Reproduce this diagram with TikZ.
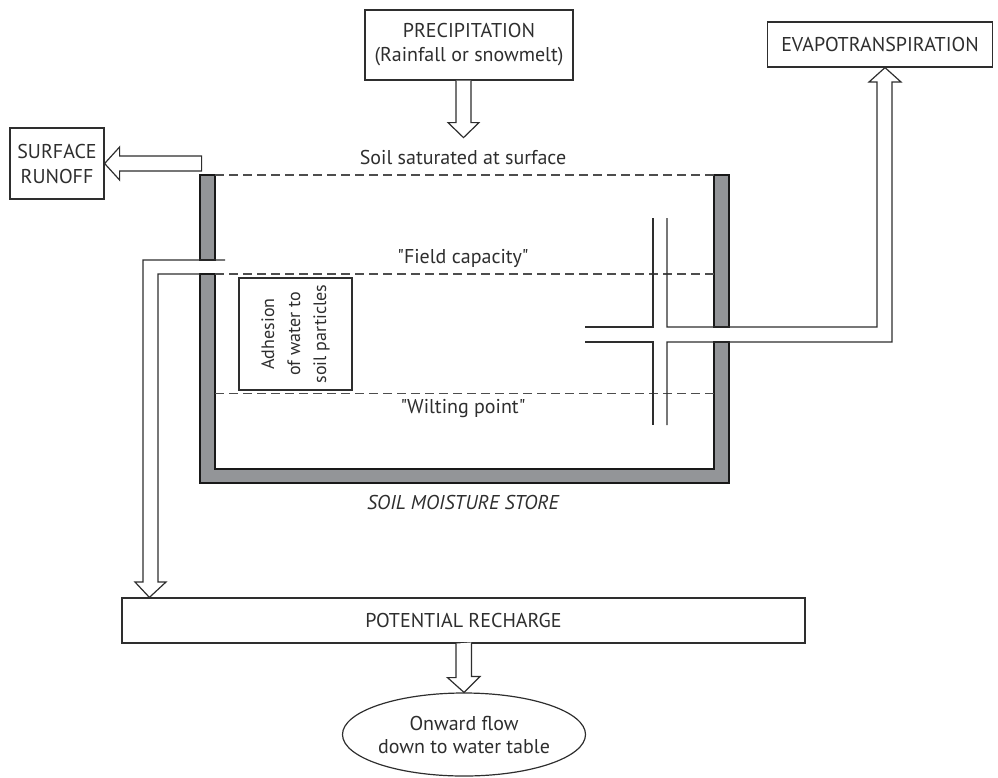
\documentclass[tikz,border=0pt]{standalone}
\usepackage{fontspec}
\setmainfont{PT Sans}
\usetikzlibrary{calc, shapes.geometric}

\definecolor{wallgray}{HTML}{939598}
\definecolor{inkgray}{HTML}{2E2E2E}
% straight double quote, kept out of the TeX mapping
\newcommand{\dq}{\XeTeXglyph\XeTeXcharglyph"22\relax}

\begin{document}
\begin{tikzpicture}[x=1pt, y=-1pt, line width=1.2pt, inkgray,
    txt/.style={font=\fontsize{20}{24}\selectfont, align=center},
    box/.style={txt, draw, rectangle, inner sep=0pt},
    level/.style={dash pattern=on 9pt off 5pt, line width=1.3pt, draw=inkgray!85},
    wall/.style={fill=wallgray, draw=black!90, line width=2pt},
    blockarrow/.style={draw, fill=white, line join=miter},
    pipe/.style={draw, line join=miter}]
    \useasboundingbox (0,0) rectangle (998,777);

    % The boxes
    \node[box, minimum width=208pt, minimum height=70pt] (precip) at (469,45) {PRECIPITATION\\(Rainfall or snowmelt)};
    \node[box, minimum width=225pt, minimum height=45pt] (evap) at (880,44.5) {EVAPOTRANSPIRATION};
    \node[box, minimum width=94pt, minimum height=71pt, font=\fontsize{20}{25}\selectfont] (runoff) at (57,163.5) {SURFACE\\RUNOFF};
    \node[box, rotate=90, minimum width=112pt, minimum height=113pt, font=\fontsize{18}{26}\selectfont] (adhesion) at (295.5,334) {Adhesion\\of water to\\soil particles};
    \node[box, minimum width=683pt, minimum height=45pt] (recharge) at (463.5,620.5) {POTENTIAL RECHARGE};
    \node[box, ellipse, minimum width=204pt, minimum height=83pt, font=\fontsize{20}{23}\selectfont] (onward) at (464,734.5) {Onward flow\\down to water table};

    % The store walls
    \draw[wall] (200,175) rectangle (215,260);
    \draw[wall] (714,175) rectangle (729,327);
    \draw[wall] (200,274) -- (200,483) -- (729,483) -- (729,342) -- (714,342) -- (714,469) -- (215,469) -- (215,274) -- cycle;

    % Moisture levels
    \draw[level] (215,175) -- (714,175);
    \draw[level] (215,274) -- (714,274);
    \draw[level] (215,393.5) -- (714,393.5);
    \node[txt] (saturated) at (463,157) {Soil saturated at surface};
    \node[txt] (field) at (463,258) {\dq Field capacity\dq};
    \node[txt] (wilting) at (463,409) {\dq Wilting point\dq};
    \node[txt, font=\fontsize{20}{24}\selectfont\itshape] (store) at (463,502) {SOIL MOISTURE STORE};

    % Inflow and overflow
    \draw[blockarrow] ($(precip.south)+(-13,0)$) -- ++(0,42) -- ++(-8,0) -- ++(15.5,15) -- ++(15.5,-15) -- ++(-8,0) -- ++(0,-42);
    \draw[blockarrow] (runoff.east) -- ++(15,-16.5) -- ++(0,9) -- ++(82,0) -- ++(0,15) -- ++(-82,0) -- ++(0,9) -- cycle;

    % Drainage down to recharge
    \draw[pipe] (225,260) -- (143,260) -- (143,582) -- (135,582) -- ($(recharge.north west)+(28,0)$) -- (166,582) -- (158,582) -- (158,274) -- (200,274);
    \draw[blockarrow] ($(recharge.south)+(-7.5,0)$) -- ++(0,34) -- ++(-8.5,0) -- (onward.north) -- ++(16,-16) -- ++(-8.5,0) -- ++(0,-34);

    % Plant uptake to evapotranspiration
    \draw[pipe] (653,218) -- (653,327) -- (585,327);
    \draw[pipe] (585,342) -- (653,342) -- (653,425);
    \draw[pipe] (667,218) -- (667,327) -- (877,327) -- (877,82) -- (869,82) -- ($(evap.south)+(5,0)$) -- (901,82) -- (892,82) -- (892,342) -- (667,342) -- (667,425);
\end{tikzpicture}
\end{document}
